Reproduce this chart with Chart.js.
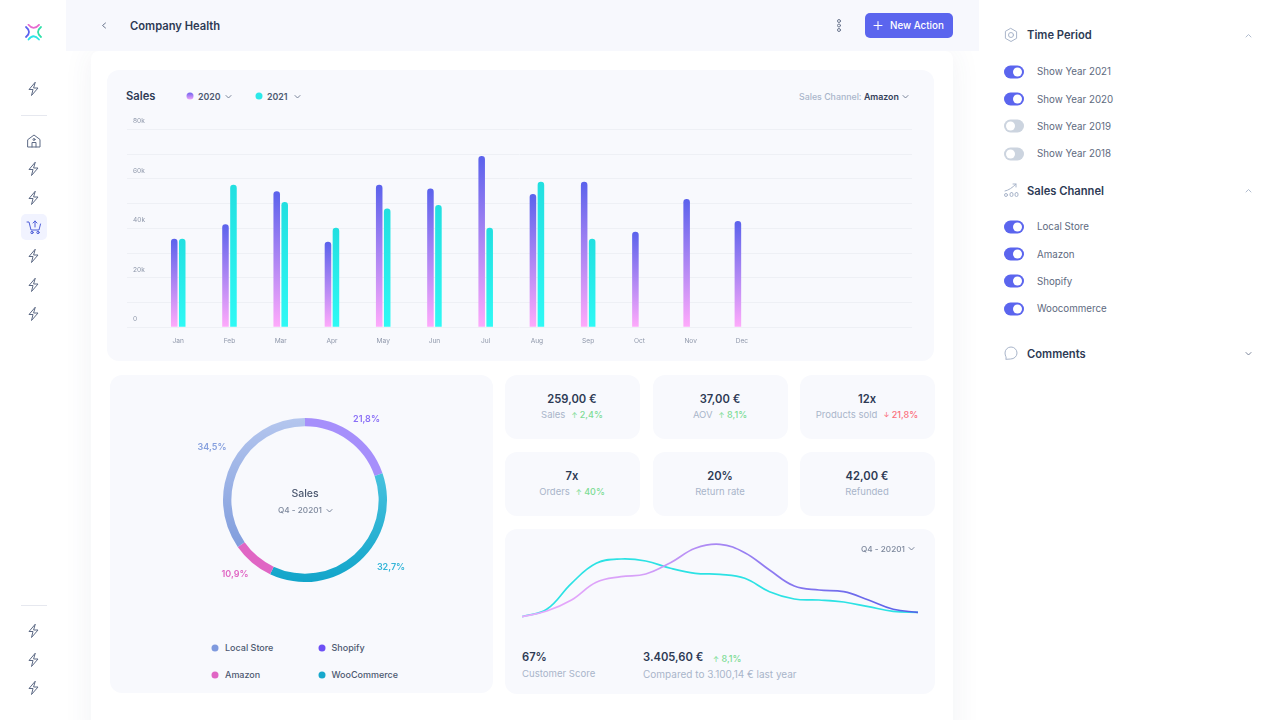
<!DOCTYPE html>
<html>
<head>
<meta charset="utf-8">
<title>Company Health</title>
<script src="https://cdn.jsdelivr.net/npm/chart.js@4"></script>
<style>
  html, body { margin: 0; width: 1280px; height: 720px; overflow: hidden; background: #fff; font-family: Inter, sans-serif; }
  #page { position: relative; width: 1280px; height: 720px; overflow: hidden; }
  .box { position: absolute; background: #f8f9fd; border-radius: 12px; }
  .t { position: absolute; white-space: nowrap; transform: translateY(-50%); line-height: 1; }
  .c { transform: translate(-50%, -50%); }
  .sub { font-size: 9.5px; color: #a9b5ca; }
  .val { font-size: 11.2px; font-weight: 600; color: #2d3a54; }
  .up { color: #7ddc95; font-weight: 500; font-size: 9px; }
  .down { color: #fb6f7c; font-weight: 500; font-size: 9px; }
  .up b, .down b { font-size: 7px; font-weight: 500; }
  .head { font-size: 11.2px; font-weight: 600; color: #2d3a54; }
  .row { font-size: 9.75px; color: #5e6a80; }
  .leg { font-size: 9px; font-weight: 500; color: #4c5870; }
  .dot { position: absolute; width: 7px; height: 7px; border-radius: 50%; transform: translate(-50%, -50%); }
  .toggle { position: absolute; left: 1004px; width: 20px; height: 13px; border-radius: 7px; transform: translateY(-50%); }
  .toggle i { position: absolute; top: 2px; width: 9px; height: 9px; border-radius: 50%; background: #fff; }
  .ic { position: absolute; fill: none; stroke-linecap: round; stroke-linejoin: round; }
  canvas { position: absolute; }
</style>
</head>
<body>
<div id="page">
  <div style="position:absolute;left:91px;top:51px;width:862px;height:700px;background:#fff;border-radius:8px 8px 0 0;box-shadow:0 0 30px rgba(60,70,110,.07)"></div>
  <div style="position:absolute;left:66px;top:0;width:913px;height:51px;background:#f7f8fd"></div>

  <div style="position:absolute;left:21px;top:115px;width:26px;height:1px;background:#e6e8ef"></div>
  <div style="position:absolute;left:21px;top:605px;width:26px;height:1px;background:#e6e8ef"></div>
  <div style="position:absolute;left:21px;top:214px;width:26px;height:26px;border-radius:5px;background:#f1f3ff"></div>
  <div id="sideIcons"></div>

  <svg class="ic" style="left:100px;top:20px;stroke:#6d7890;stroke-width:1" width="8" height="11" viewBox="0 0 8 11"><path d="M5.5 3 L2.5 5.5 L5.5 8"/></svg>
  <div class="t" style="left:130px;top:26.5px;font-size:11.2px;font-weight:600;color:#2d3a54">Company Health</div>
  <svg class="ic" style="left:835px;top:18px;stroke:#6d7890;stroke-width:1" width="8" height="15"><circle cx="4" cy="3" r="1.5"/><circle cx="4" cy="7.5" r="1.5"/><circle cx="4" cy="12" r="1.5"/></svg>
  <div style="position:absolute;left:865px;top:13px;width:88px;height:25px;border-radius:5px;background:#5b65ee"></div>
  <svg class="ic" style="left:873px;top:20px;stroke:#fff;stroke-width:1.1" width="10" height="11"><path d="M5 1.5V9.5M1 5.5H9"/></svg>
  <div class="t" style="left:890px;top:26px;font-size:9.8px;font-weight:500;color:#fff">New Action</div>

  <div class="box" style="left:107px;top:70px;width:827px;height:291px"></div>
  <div class="t" style="left:126px;top:96.5px;font-size:11.2px;font-weight:600;color:#2d3a54">Sales</div>
  <div class="dot" style="left:189.5px;top:96px;background:linear-gradient(#6f62ef,#f0a5fa)"></div>
  <div class="t" style="left:198px;top:96.5px;font-size:8.8px;font-weight:600;color:#4c5870">2020</div>
  <div class="dot" style="left:259px;top:96px;background:#2ce9e9"></div>
  <div class="t" style="left:267px;top:96.5px;font-size:8.8px;font-weight:600;color:#4c5870">2021</div>
  <div class="t" style="left:799px;top:96.5px;font-size:8.8px;font-weight:500;color:#a9b5ca">Sales Channel: <span style="color:#34415a;font-weight:600">Amazon</span></div>
  <canvas id="salesChart" style="left:126px;top:110px"></canvas>

  <div class="box" style="left:110px;top:375px;width:383px;height:318px"></div>
  <canvas id="shareChart" style="left:223px;top:418px"></canvas>
  <div class="t c" style="left:305px;top:494px;font-size:10.5px;font-weight:500;color:#4c5870">Sales</div>
  <div class="t" style="left:278px;top:510px;font-size:8.2px;font-weight:500;color:#7d889c">Q4 - 20201</div>
  <div id="shareLabels"></div>
  <div id="shareLegend"></div>

  <div id="kpis"></div>

  <div class="box" style="left:505px;top:529px;width:430px;height:165px"></div>
  <canvas id="trendChart" style="left:522px;top:540px"></canvas>
  <div class="t" style="left:861px;top:548.5px;font-size:8.2px;font-weight:500;color:#7d889c">Q4 - 20201</div>
  <div class="t val" style="left:522px;top:658px">67%</div>
  <div class="t sub" style="left:522px;top:673.5px;font-size:9.6px">Customer Score</div>
  <div class="t val" style="left:643px;top:658px">3.405,60 €</div>
  <div class="t up" style="left:713px;top:658px"><b>↑</b> 8,1%</div>
  <div class="t sub" style="left:643px;top:673.5px;font-size:10px">Compared to 3.100,14 € last year</div>

  <div class="t head" style="left:1027px;top:36px">Time Period</div>
  <div class="t head" style="left:1027px;top:191.5px">Sales Channel</div>
  <div class="t head" style="left:1027px;top:354.5px">Comments</div>
  <svg class="ic" style="left:1003px;top:27px;stroke:#a9b5ca;stroke-width:1" width="16" height="16"><circle cx="8" cy="8" r="2.5"/><path d="M8 1.5 L13.6 4.7 V11.3 L8 14.5 L2.4 11.3 V4.7Z"/></svg>
  <svg class="ic" style="left:1003px;top:182px;stroke:#a9b5ca;stroke-width:1" width="16" height="16"><path d="M2 9 C6 8 9 6 13 2M10 2H13V5"/><circle cx="3" cy="13" r="1.5"/><rect x="7" y="10.5" width="3" height="4" rx="1.5"/><rect x="12" y="10.5" width="3" height="4" rx="1.5"/></svg>
  <svg class="ic" style="left:1003px;top:345px;stroke:#a9b5ca;stroke-width:1" width="16" height="16"><path d="M3 14 C4 12.5 2 11 2 8 A6 6 0 1 1 8 14Z"/></svg>
  <div id="sideRows"></div>
  <div id="chevrons"></div>
</div>

<script>
// chart values
const months = ['Jan', 'Feb', 'Mar', 'Apr', 'May', 'Jun', 'Jul', 'Aug', 'Sep', 'Oct', 'Nov', 'Dec'];
const sales2020 = [35.8, 41.6, 55, 34.6, 57.6, 56.1, 69.2, 53.9, 58.8, 38.6, 51.8, 43];
const sales2021 = [35.8, 57.6, 50.6, 40.2, 48, 49.4, 40.2, 58.8, 35.8, null, null, null];

const channels = ['Shopify', 'WooCommerce', 'Amazon', 'Local Store'];
// arcs as measured on the ring; they differ a little from the printed shares
const shareArcs = [19.7, 37.3, 8.3, 34.7];
const sharePrinted = ['21,8%', '32,7%', '10,9%', '34,5%'];

const trendSteps = ['', '', '', '', '', '', '', '', '', '', '', '', '', '', '', '', ''];
const trend2020 = [3.3, 9, 20, 37.7, 43.3, 46, 57.3, 71.7, 75.7, 67.3, 50, 34, 30, 28.3, 20, 10.7, 7.7];
const trend2021 = [3.3, 10.7, 36.7, 56.7, 61, 59, 51.7, 46.7, 45.7, 41.7, 28.3, 21, 20, 18, 13.3, 8.7, 7.7];

const kpiNames = ['Sales', 'AOV', 'Products sold', 'Orders', 'Return rate', 'Refunded'];
const kpiValues = ['259,00 €', '37,00 €', '12x', '7x', '20%', '42,00 €'];
const kpiChanges = ['↑ 2,4%', '↑ 8,1%', '↓ 21,8%', '↑ 40%', '', ''];

const yearRows = ['Show Year 2021', 'Show Year 2020', 'Show Year 2019', 'Show Year 2018'];
const yearRowsOn = [true, true, false, false];
const channelRows = ['Local Store', 'Amazon', 'Shopify', 'Woocommerce'];

const FONT = 'Inter, sans-serif';

function add(parentId, html) {
  document.getElementById(parentId).insertAdjacentHTML('beforeend', html);
}

function sizeCanvas(id, w, h) {
  const canvas = document.getElementById(id);
  canvas.width = w;
  canvas.height = h;
  canvas.style.width = w + 'px';
  canvas.style.height = h + 'px';
  return canvas.getContext('2d');
}

function chevron(parentId, x, y, color, up) {
  const d = up ? 'M1 4 L3.5 1.5 L6 4' : 'M1 1.5 L3.5 4 L6 1.5';
  add(parentId, `<svg class="ic" style="left:${x}px;top:${y}px;stroke:${color};stroke-width:.9" width="7" height="6"><path d="${d}"/></svg>`);
}

// side nav
const bolt = 'M9 1.5 L3 8.5 H7 L5.5 14.5 L12 7 H8 Z';
[89, 169, 198, 256, 285, 314, 631, 660, 688].forEach((y) => {
  add('sideIcons', `<svg class="ic" style="left:25.5px;top:${y - 8}px;stroke:#5d6a85;stroke-width:1" width="16" height="16"><path d="${bolt}"/></svg>`);
});
add('sideIcons', '<svg class="ic" style="left:25.5px;top:133px;stroke:#5d6a85;stroke-width:1" width="16" height="16"><path d="M2 6.5 L8 2 L14 6.5 V14 H2 Z M6 14 V9.5 H10 V14"/><circle cx="8" cy="6.5" r="1"/></svg>');
add('sideIcons', '<svg class="ic" style="left:25.5px;top:219px;stroke:#4f5fd8;stroke-width:1" width="16" height="16"><path d="M1 3 H3 L5 11 H13 L14.5 5"/><path d="M9 8 V2 M7 4 L9 2 L11 4"/><circle cx="6" cy="13.5" r="1.2"/><circle cx="12" cy="13.5" r="1.2"/></svg>');
add('sideIcons', `<svg class="ic" style="left:25px;top:24px;stroke-width:1.8" width="17" height="17">
  <path d="M3.5 .8 Q8.5 7 14 .8" stroke="#e76bd0"/><path d="M1 3 Q7 8 1 13" stroke="#5b62ee"/>
  <path d="M16 3 Q10 8 16 13" stroke="#2fe0a8"/><path d="M3.5 15.5 Q8.5 9 14 15.5" stroke="#2ce5e5"/></svg>`);

// toggles + rows in the right panel
function addRow(label, y, on) {
  add('sideRows', `<div class="toggle" style="top:${y}px;background:${on ? '#5b65ee' : '#ccd4df'}"><i style="left:${on ? 9 : 2}px"></i></div>`);
  add('sideRows', `<div class="t row" style="left:1037px;top:${y + 0.4}px">${label}</div>`);
}
yearRows.forEach((label, i) => addRow(label, 72 + i * 27.2, yearRowsOn[i]));
channelRows.forEach((label, i) => addRow(label, 227 + i * 27.2, true));

chevron('chevrons', 1244.5, 33, '#a9b5ca', true);
chevron('chevrons', 1244.5, 188, '#a9b5ca', true);
chevron('chevrons', 1244.5, 351, '#6d7890', false);
chevron('chevrons', 224.5, 93.5, '#6d7890', false);
chevron('chevrons', 293.5, 93.5, '#6d7890', false);
chevron('chevrons', 902, 93.5, '#6d7890', false);
chevron('chevrons', 325.5, 507.5, '#6d7890', false);
chevron('chevrons', 908, 546, '#6d7890', false);

// kpi cards
const kpiX = [505, 653, 800];
const kpiY = [375, 452];
kpiNames.forEach((name, i) => {
  const x = kpiX[i % 3];
  const y = kpiY[Math.floor(i / 3)];
  const change = kpiChanges[i];
  const cls = change.startsWith('↓') ? 'down' : 'up';
  const changeHtml = change
    ? `<span class="${cls}" style="margin-left:6px"><b>${change[0]}</b>${change.slice(1)}</span>`
    : '';
  add('kpis', `<div class="box" style="left:${x}px;top:${y}px;width:135px;height:64px"></div>`);
  add('kpis', `<div class="t c val" style="left:${x + 67}px;top:${y + 24.5}px">${kpiValues[i]}</div>`);
  add('kpis', `<div class="t c sub" style="left:${x + 67}px;top:${y + 39.5}px">${name}${changeHtml}</div>`);
});

// donut labels and legend
const shareLabelPos = [[366.5, 418], [391, 566], [235, 573], [212, 446]];
const shareLabelColors = ['#8a6ff7', '#35b5d8', '#e066c4', '#86a0de'];
sharePrinted.forEach((text, i) => {
  const [x, y] = shareLabelPos[i];
  add('shareLabels', `<div class="t c" style="left:${x}px;top:${y}px;font-size:9px;font-weight:600;color:${shareLabelColors[i]}">${text}</div>`);
});
const legendPos = [[321.5, 647.5], [321.5, 674.5], [215, 674.5], [215, 647.5]];
const legendColors = ['#6d50f5', '#17a8cc', '#e066c4', '#7f9ade'];
channels.forEach((name, i) => {
  const [x, y] = legendPos[i];
  add('shareLegend', `<div class="dot" style="left:${x}px;top:${y}px;background:${legendColors[i]}"></div>`);
  add('shareLegend', `<div class="t leg" style="left:${x + 10}px;top:${y - 1}px">${name}</div>`);
});

// sales bars
function barGradient(context, top, bottom) {
  const { chart, parsed } = context;
  if (!chart.chartArea || !parsed || !Number.isFinite(parsed.y)) return top;
  const yScale = chart.scales.y;
  const g = chart.ctx.createLinearGradient(0, yScale.getPixelForValue(parsed.y), 0, yScale.getPixelForValue(0));
  g.addColorStop(0, top);
  g.addColorStop(1, bottom);
  return g;
}

function barData(values) {
  return values.map((v, i) => ({ x: i, y: v }));
}

new Chart(sizeCanvas('salesChart', 786, 240), {
  type: 'bar',
  data: {
    datasets: [
      {
        label: '2020',
        data: barData(sales2020),
        backgroundColor: (c) => barGradient(c, '#5b62ec', '#ffaafb'),
      },
      {
        label: '2021',
        data: barData(sales2021),
        backgroundColor: (c) => barGradient(c, '#22dfe0', '#2ff9f5'),
      },
    ],
  },
  options: {
    responsive: false,
    animation: false,
    layout: { padding: { top: 19.3, left: 1 } },
    categoryPercentage: 16 / 51.3,
    barPercentage: 0.82,
    borderRadius: { topLeft: 3.2, topRight: 3.2 },
    borderSkipped: false,
    plugins: { legend: { display: false }, tooltip: { enabled: false } },
    scales: {
      x: {
        type: 'linear',
        offset: false,
        min: -0.9999,
        max: 14.32,
        grid: { display: false },
        border: { display: false },
        afterFit: (scale) => { scale.height = 22.7; },
        ticks: {
          stepSize: 1,
          includeBounds: false,
          autoSkip: false,
          maxRotation: 0,
          padding: 2,
          color: '#8e97aa',
          font: { family: FONT, size: 6.6 },
          callback: (v) => months[v] || '',
        },
      },
      y: {
        min: 0,
        max: 80,
        grid: { color: '#eef0f5', lineWidth: 1, drawTicks: false },
        border: { display: false },
        afterFit: (scale) => { scale.width = 0; },
        ticks: {
          stepSize: 10,
          mirror: true,
          padding: 6,
          labelOffset: -8,
          color: '#8e97aa',
          font: { family: FONT, size: 6.6 },
          callback: (v) => (v % 20 === 0 ? (v === 0 ? '0' : v + 'k') : ''),
        },
      },
    },
  },
});

// donut
function ringGradient(context, top, bottom) {
  const g = context.chart.ctx.createLinearGradient(0, 0, 0, 164);
  g.addColorStop(0, top);
  g.addColorStop(1, bottom);
  return g;
}
const ringColors = [
  ['#a68ffb', '#a68ffb'],
  ['#62d0e8', '#12a5ca'],
  ['#e066c4', '#e066c4'],
  ['#b4c6ee', '#7392d8'],
];

new Chart(sizeCanvas('shareChart', 164, 164), {
  type: 'doughnut',
  data: {
    labels: channels,
    datasets: [
      {
        data: shareArcs,
        borderWidth: 0,
        backgroundColor: (c) => {
          if (c.dataIndex === undefined) return '#a68ffb';
          return ringGradient(c, ringColors[c.dataIndex][0], ringColors[c.dataIndex][1]);
        },
      },
    ],
  },
  options: {
    responsive: false,
    animation: false,
    cutout: '89.8%',
    plugins: { legend: { display: false }, tooltip: { enabled: false } },
  },
});

// trend lines
function trendGradient(context) {
  const { chart } = context;
  if (!chart.chartArea) return '#8b7cf0';
  const g = chart.ctx.createLinearGradient(chart.chartArea.left, 0, chart.chartArea.right, 0);
  g.addColorStop(0, '#eaa9fc');
  g.addColorStop(0.3, '#d6a0f8');
  g.addColorStop(0.55, '#9a80f2');
  g.addColorStop(1, '#565fe8');
  return g;
}

new Chart(sizeCanvas('trendChart', 396, 80), {
  type: 'line',
  data: {
    labels: trendSteps,
    datasets: [
      { label: '2020', data: trend2020, borderColor: trendGradient, borderWidth: 1.7, pointRadius: 0, tension: 0.4 },
      { label: '2021', data: trend2021, borderColor: '#2ce2e4', borderWidth: 1.7, pointRadius: 0, tension: 0.4 },
    ],
  },
  options: {
    responsive: false,
    animation: false,
    plugins: { legend: { display: false }, tooltip: { enabled: false } },
    scales: {
      x: { display: false },
      y: { display: false, min: 0, max: 80 },
    },
  },
});
</script>
</body>
</html>
